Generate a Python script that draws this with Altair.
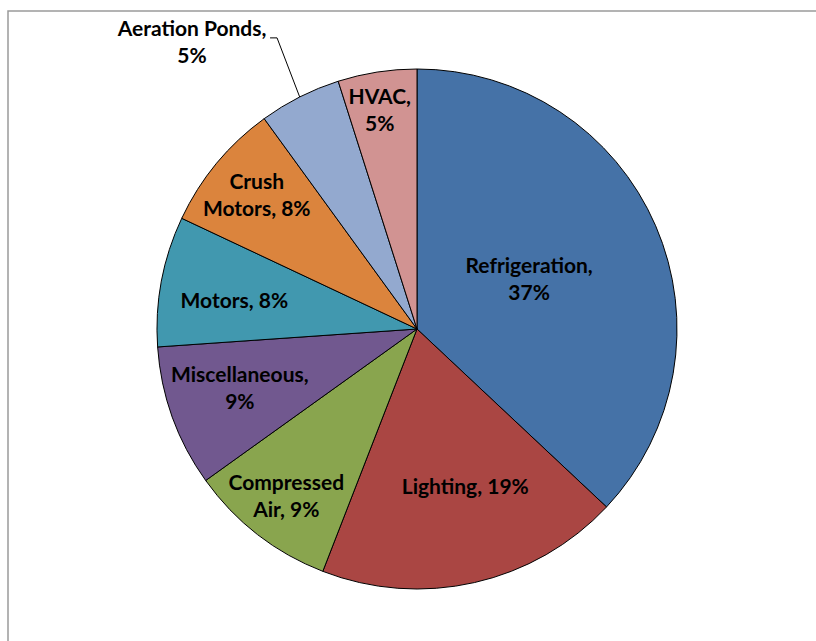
import math
import altair as alt
import pandas as pd

categories = ["Refrigeration", "Lighting", "Compressed Air", "Miscellaneous",
              "Motors", "Crush Motors", "Aeration Ponds", "HVAC"]
shares = [37.0, 18.9, 9.2, 8.8, 8.1, 8.0, 5.1, 4.9]
labels = ["Refrigeration,\n37%", "Lighting, 19%", "Compressed\nAir, 9%", "Miscellaneous,\n9%",
          "Motors, 8%", "Crush\nMotors, 8%", "Aeration Ponds,\n5%", "HVAC,\n5%"]
colors = ["#4572A7", "#AA4643", "#89A54E", "#71588F",
          "#4198AF", "#DB843D", "#93A9CF", "#D19392"]
# label placement inside each slice: radial fraction of radius (0 = outside label)
label_r_frac = [0.47, 0.64, 0.82, 0.72, 0.71, 0.80, 0.0, 0.85]
# and angular fraction across the slice
label_a_frac = [0.5, 0.44, 0.5, 0.53, 0.42, 0.5, 0.5, 0.45]
outside_label = "Aeration Ponds"

W, H = 816, 641
CX, CY, R = 417, 329, 260
FONT = "Lato"
FS = 21
LH = 27

total = sum(shares)
cum = [sum(shares[:k]) for k in range(len(shares))]
mids = [(c + s * af) / total * 2 * math.pi for c, s, af in zip(cum, shares, label_a_frac)]

df = pd.DataFrame({
    "idx": list(range(len(categories))),
    "cat": categories,
    "share": shares,
})

arcs = alt.Chart(df).mark_arc(radius=R, stroke="#000000", strokeWidth=1).encode(
    theta=alt.Theta("share:Q", stack=True),
    order=alt.Order("idx:Q"),
    x=alt.value(CX),
    y=alt.value(CY),
    color=alt.Color("cat:N", scale=alt.Scale(domain=categories, range=colors), legend=None),
)

# inside labels
rows = []
for lab, f, a in zip(labels, label_r_frac, mids):
    if f <= 0:
        continue
    n = lab.count("\n") + 1
    r = f * R
    rows.append({"t": lab, "px": CX + r * math.sin(a), "py": CY - r * math.cos(a) - (n - 1) * LH / 2})
inner_df = pd.DataFrame(rows)

text_style = dict(font=FONT, fontSize=FS, fontWeight="bold", lineBreak="\n",
                  align="center", baseline="middle", lineHeight=LH, color="#000000")

inner_text = alt.Chart(inner_df).mark_text(**text_style).encode(
    x=alt.X("px:Q", scale=None),
    y=alt.Y("py:Q", scale=None),
    text="t:N",
)

# leader line for the outside label, derived from the slice's mid angle
i = categories.index(outside_label)
mid = mids[i]
p0 = (CX + R * math.sin(mid), CY - R * math.cos(mid))
r1 = R + 63
p1 = (CX + r1 * math.sin(mid + 0.02), CY - r1 * math.cos(mid + 0.02))
p2 = (p1[0] - 7, p1[1])
leader_df = pd.DataFrame({"k": [0, 1, 2], "px": [p0[0], p1[0], p2[0]], "py": [p0[1], p1[1], p2[1]]})

leader = alt.Chart(leader_df).mark_line(color="#000000", strokeWidth=1).encode(
    x=alt.X("px:Q", scale=None),
    y=alt.Y("py:Q", scale=None),
    order=alt.Order("k:Q"),
)

out_df = pd.DataFrame({"px": [p2[0]], "py": [p2[1]], "t": [labels[i]]})
out_text = alt.Chart(out_df).mark_text(dx=-78, dy=-8, **text_style).encode(
    x=alt.X("px:Q", scale=None),
    y=alt.Y("py:Q", scale=None),
    text="t:N",
)

frame = alt.Chart(pd.DataFrame({"a": [0]})).mark_rect(
    fill=None, stroke="#9a9a9a", strokeWidth=1.5
).encode(
    x=alt.value(8), y=alt.value(11), x2=alt.value(W + 50), y2=alt.value(H + 50)
)

chart = alt.layer(frame, arcs, inner_text, leader, out_text).properties(
    width=W, height=H, autosize="none", padding=0
).configure_view(stroke=None)

chart.save("out.html", embed_options={"renderer": "svg", "actions": False})
